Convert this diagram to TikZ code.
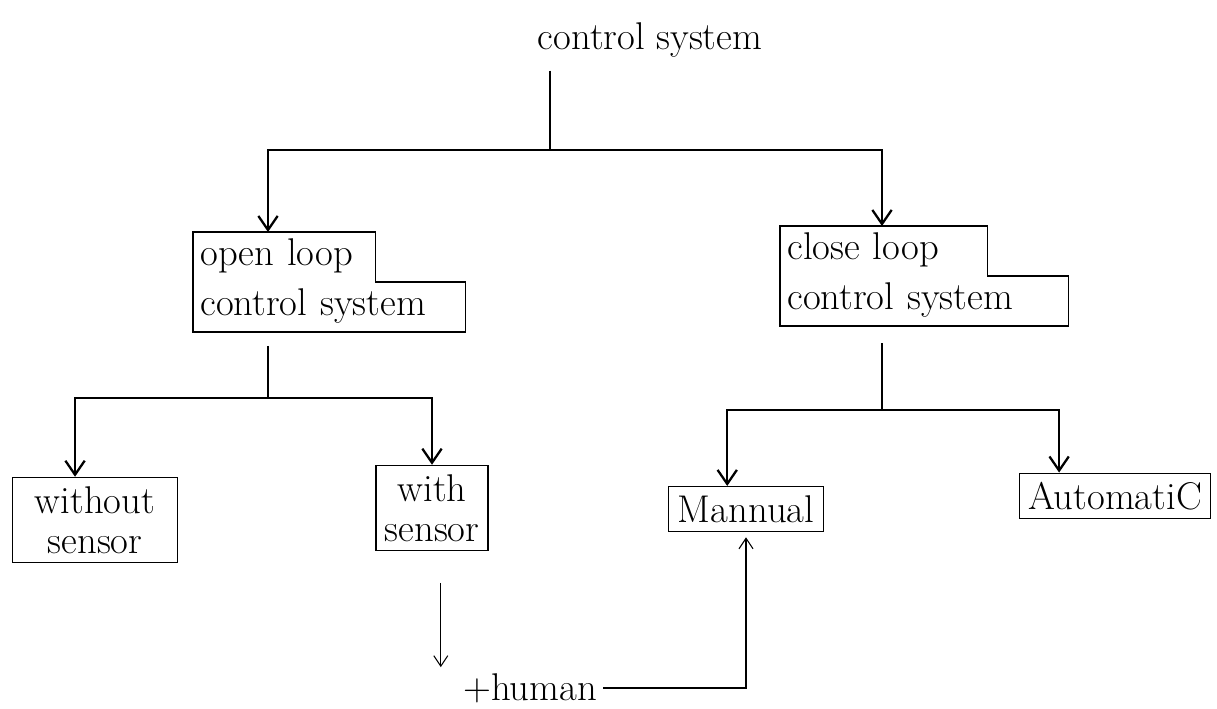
\documentclass[tikz,border=0pt]{standalone}
\usetikzlibrary{arrows.meta,calc}
\begin{document}
\begin{tikzpicture}[x=0.02cm,y=-0.02cm,
    hand/.style={font=\fontsize{22}{23}\selectfont},
    row/.style={hand, inner sep=4pt, text height=15pt, text depth=5pt, align=left, anchor=north west},
    box/.style={hand, draw, line width=0.8pt, inner sep=5pt, align=center},
    outline/.style={line width=0.8pt},
    tree/.style={line width=1.3pt, >={Straight Barb[length=8pt,width=11pt]}},
    link/.style={line width=0.6pt, >={Straight Barb[length=6pt,width=8pt]}}]
      \useasboundingbox (0,0) rectangle (1217,708);

      \node[hand] (cs) at (650,40) {control system};

      % stepped boxes, one node per line
      \node[row, text width=3.36cm] (ol1) at (193,232) {open loop};
      \node[row, text width=5.16cm] (ol2) at (ol1.south west) {control system};
      \node[row, text width=3.86cm] (cl1) at (780,226) {close loop};
      \node[row, text width=5.48cm] (cl2) at (cl1.south west) {control system};
      \draw[outline] (ol2.south west) -- (ol1.north west) -- (ol1.north east)
        -- (ol1.south east) -- (ol2.north east) -- (ol2.south east) -- cycle;
      \draw[outline] (cl2.south west) -- (cl1.north west) -- (cl1.north east)
        -- (cl1.south east) -- (cl2.north east) -- (cl2.south east) -- cycle;

      \node[box, minimum width=3.3cm] (wo) at (95,520) {without\\ sensor};
      \node[box] (ws) at (432,508) {with\\ sensor};
      \node[box, minimum width=3.1cm] (man) at (746,509) {Mannual};
      \node[box] (auto) at (1115,496) {AutomatiC};
      \node[hand] (hum) at (530,688) {+human};

      \coordinate (j0) at (550,150);
      \coordinate (j1) at (268,398);
      \coordinate (j2) at (882,410);

      \draw[tree, shorten <=4pt] (cs.south -| j0) -- (j0);
      \draw[tree,->] (j0) -| (j1 |- ol1.north);
      \draw[tree,->] (j0) -| (j2 |- cl1.north);
      \draw[tree, shorten <=8pt] (j1 |- ol2.south) -- (j1);
      \draw[tree,->] (j1) -| ($(wo.north west)!0.38!(wo.north east)$);
      \draw[tree,->] (j1) -| (ws.north);
      \draw[tree, shorten <=10pt] (j2 |- cl2.south) -- (j2);
      \draw[tree,->] (j2) -| ($(man.north west)!0.38!(man.north east)$);
      \draw[tree,->] (j2) -| ($(auto.north west)!0.21!(auto.north east)$);

      \draw[link,->, shorten <=18pt] ([xshift=5pt]ws.south) -- ([xshift=5pt]ws.south |- hum.north);
      \draw[link,->, shorten >=3pt] (hum.east) -| (man.south);
\end{tikzpicture}
\end{document}
